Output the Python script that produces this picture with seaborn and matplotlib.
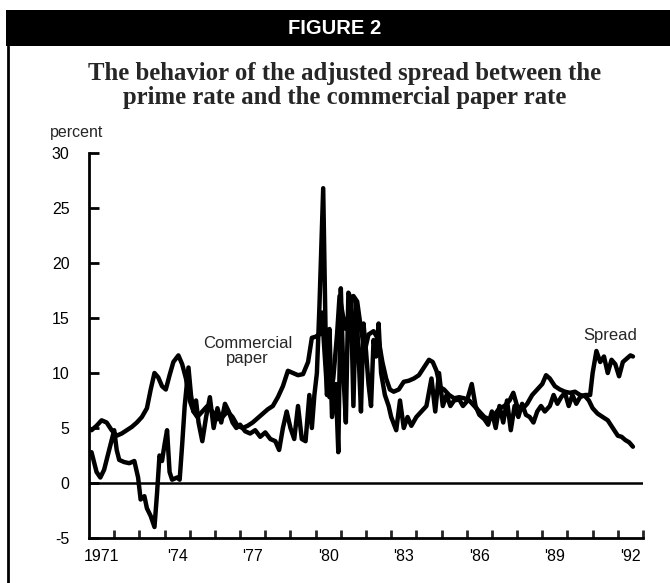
import matplotlib
matplotlib.use("Agg")
import matplotlib.pyplot as plt
import seaborn as sns
import pandas as pd
from matplotlib.patches import Rectangle
from matplotlib.lines import Line2D

# ---------------- data (decimal years, percent) ----------------
cp_year = [1971.0, 1971.1, 1971.3, 1971.5, 1971.7, 1971.9, 1972.1, 1972.3, 1972.5, 1972.7,
           1972.9, 1973.1, 1973.3, 1973.45, 1973.6, 1973.75, 1973.9, 1974.05, 1974.2, 1974.35,
           1974.55, 1974.7, 1974.85, 1975.0, 1975.15, 1975.3, 1975.5, 1975.7, 1975.9, 1976.1,
           1976.3, 1976.5, 1976.7, 1976.9, 1977.1, 1977.3, 1977.5, 1977.7, 1977.9, 1978.1,
           1978.3, 1978.5, 1978.7, 1978.9, 1979.1, 1979.3, 1979.5, 1979.7, 1979.85, 1980.0,
           1980.15, 1980.25, 1980.35, 1980.45, 1980.55, 1980.7, 1980.85, 1980.95, 1981.1, 1981.2,
           1981.35, 1981.5, 1981.65, 1981.8, 1981.95, 1982.1, 1982.3, 1982.5, 1982.65, 1982.8,
           1982.95, 1983.1, 1983.3, 1983.5, 1983.7, 1983.9, 1984.1, 1984.3, 1984.5, 1984.65,
           1984.8, 1984.95, 1985.1, 1985.3, 1985.5, 1985.7, 1985.9, 1986.1, 1986.3, 1986.5,
           1986.7, 1986.9, 1987.1, 1987.3, 1987.5, 1987.7, 1987.85, 1988.0, 1988.2, 1988.4,
           1988.6, 1988.8, 1989.0, 1989.15, 1989.3, 1989.5, 1989.7, 1989.9, 1990.1, 1990.3,
           1990.5, 1990.7, 1990.85, 1991.0, 1991.2, 1991.4, 1991.6, 1991.8, 1992.0, 1992.15,
           1992.3, 1992.45, 1992.6]
cp_rate = [5.0, 4.8, 5.2, 5.7, 5.5, 4.8, 4.3, 4.5, 4.8, 5.1,
           5.5, 6.0, 6.8, 8.5, 10.0, 9.6, 8.8, 8.5, 9.8, 11.0,
           11.6, 10.8, 9.5, 7.5, 6.5, 6.0, 6.5, 7.0, 6.5, 5.8,
           6.0, 6.5, 6.0, 5.2, 5.0, 5.2, 5.5, 5.9, 6.3, 6.7,
           7.0, 7.8, 8.8, 10.2, 10.0, 9.8, 9.9, 11.0, 13.2, 13.3,
           13.5, 15.5, 12.0, 8.5, 7.8, 9.5, 13.5, 17.0, 15.0, 14.0,
           16.0, 17.0, 16.5, 14.0, 12.0, 13.5, 13.8, 13.0, 11.0, 9.5,
           8.5, 8.3, 8.5, 9.2, 9.3, 9.5, 9.8, 10.5, 11.2, 11.0,
           10.2, 8.7, 8.5, 8.0, 7.7, 7.8, 7.7, 7.5, 7.0, 6.5,
           6.0, 5.8, 6.2, 6.8, 7.0, 7.5, 8.2, 7.0, 6.7, 7.2,
           8.0, 8.5, 9.0, 9.8, 9.5, 8.8, 8.5, 8.3, 8.2, 8.3,
           8.0, 7.9, 7.5, 6.8, 6.3, 6.0, 5.7, 5.0, 4.3, 4.2,
           3.9, 3.7, 3.3]

spread_year = [1971.1, 1971.3, 1971.45, 1971.6, 1971.8, 1972.0, 1972.1, 1972.2, 1972.4, 1972.6,
               1972.8, 1972.95, 1973.05, 1973.2, 1973.3, 1973.45, 1973.6, 1973.7, 1973.8, 1973.9,
               1974.0, 1974.1, 1974.2, 1974.3, 1974.5, 1974.6, 1974.7, 1974.8, 1974.95, 1975.05,
               1975.15, 1975.25, 1975.35, 1975.5, 1975.65, 1975.8, 1975.95, 1976.1, 1976.25, 1976.4,
               1976.55, 1976.7, 1976.85, 1977.0, 1977.2, 1977.4, 1977.6, 1977.8, 1978.0, 1978.2,
               1978.4, 1978.55, 1978.7, 1978.85, 1979.0, 1979.15, 1979.3, 1979.45, 1979.6, 1979.75,
               1979.85, 1979.95, 1980.05, 1980.15, 1980.3, 1980.4, 1980.45, 1980.55, 1980.65, 1980.8,
               1980.9, 1981.0, 1981.1, 1981.2, 1981.3, 1981.4, 1981.5, 1981.6, 1981.7, 1981.8,
               1981.9, 1982.0, 1982.1, 1982.2, 1982.3, 1982.4, 1982.5, 1982.6, 1982.75, 1982.9,
               1983.0, 1983.2, 1983.35, 1983.5, 1983.65, 1983.8, 1984.0, 1984.2, 1984.4, 1984.6,
               1984.75, 1984.9, 1985.05, 1985.2, 1985.35, 1985.5, 1985.7, 1985.85, 1986.0, 1986.2,
               1986.35, 1986.5, 1986.7, 1986.85, 1987.0, 1987.15, 1987.3, 1987.45, 1987.6, 1987.75,
               1987.9, 1988.05, 1988.2, 1988.35, 1988.5, 1988.65, 1988.8, 1988.95, 1989.1, 1989.3,
               1989.45, 1989.6, 1989.75, 1989.9, 1990.05, 1990.2, 1990.35, 1990.5, 1990.7, 1990.9,
               1991.0, 1991.15, 1991.3, 1991.45, 1991.6, 1991.75, 1991.9, 1992.05, 1992.2, 1992.35,
               1992.5, 1992.6]
spread_value = [2.8, 1.0, 0.5, 1.2, 3.0, 4.8, 3.0, 2.1, 1.9, 1.8,
                2.0, 0.5, -1.5, -1.2, -2.3, -3.0, -4.0, -1.0, 2.5, 2.0,
                3.5, 4.8, 1.0, 0.3, 0.5, 0.3, 3.5, 7.0, 10.5, 8.0,
                6.5, 7.5, 5.5, 3.8, 6.0, 7.8, 5.0, 6.8, 5.5, 7.2,
                6.5, 5.5, 5.0, 5.3, 4.7, 4.5, 4.8, 4.2, 4.6, 4.0,
                3.8, 3.0, 5.0, 6.5, 5.0, 4.0, 7.0, 4.0, 3.8, 8.0,
                5.0, 8.0, 10.0, 16.0, 26.8, 13.0, 8.0, 14.0, 6.0, 9.0,
                2.8, 17.7, 10.0, 5.5, 17.3, 16.8, 7.0, 16.5, 12.0, 6.5,
                14.5, 12.0, 9.0, 7.0, 13.0, 11.5, 14.5, 10.0, 8.0, 7.0,
                6.0, 4.8, 7.5, 5.0, 6.0, 5.2, 6.0, 6.5, 7.0, 9.5,
                6.5, 10.0, 7.0, 8.0, 7.0, 7.5, 7.6, 7.0, 7.4, 9.0,
                7.0, 6.2, 5.8, 5.3, 6.5, 5.0, 7.0, 5.5, 7.5, 4.8,
                7.0, 6.0, 7.2, 6.2, 6.0, 5.5, 6.5, 7.0, 6.5, 7.0,
                8.0, 7.2, 7.8, 8.2, 7.0, 8.0, 7.2, 7.8, 8.0, 8.0,
                10.0, 12.0, 11.0, 11.5, 10.0, 11.2, 10.8, 9.7, 11.0, 11.3,
                11.6, 11.5]

y_ticks = [-5, 0, 5, 10, 15, 20, 25, 30]
x_label_years = [1971, 1974, 1977, 1980, 1983, 1986, 1989, 1992]
x_labels = ["1971", "'74", "'77", "'80", "'83", "'86", "'89", "'92"]

# ---------------- styling ----------------
sns.set_style("ticks")
plt.rcParams["font.family"] = ["Liberation Sans", "DejaVu Sans"]

W, H = 670, 583
fig = plt.figure(figsize=(W / 100, H / 100), dpi=100)
fig.patch.set_facecolor("white")

def fx(px):
    return px / W

def fy(py):
    return 1 - py / H

ax = fig.add_axes([fx(89), fy(538), fx(643) - fx(89), fy(153) - fy(538)])
ax.set_facecolor("white")

cp_df = pd.DataFrame({"year": cp_year, "rate": cp_rate})
sp_df = pd.DataFrame({"year": spread_year, "rate": spread_value})

sns.lineplot(data=cp_df, x="year", y="rate", ax=ax, color="black", linewidth=3.2,
             sort=False, estimator=None)
sns.lineplot(data=sp_df, x="year", y="rate", ax=ax, color="black", linewidth=3.2,
             sort=False, estimator=None)

ax.axhline(0, xmin=0, xmax=1, color="black", linewidth=1.8, zorder=1)

ax.set_xlim(1971, 1993)
ax.set_ylim(-5, 30)
ax.set_xlabel("")
ax.set_ylabel("")

for s in ["top", "right"]:
    ax.spines[s].set_visible(False)
for s in ["left", "bottom"]:
    ax.spines[s].set_linewidth(2.0)
    ax.spines[s].set_color("black")

ax.set_yticks(y_ticks)
ax.set_yticklabels([str(v) for v in y_ticks])
ax.tick_params(axis="y", direction="in", length=7.5, width=2.0, pad=14,
               labelsize=11.5, colors="black")

ax.set_xticks(list(range(1972, 1994)))
ax.set_xticklabels([])
ax.set_xticks([y + 0.5 for y in x_label_years], minor=True)
ax.set_xticklabels(x_labels, minor=True)
ax.tick_params(axis="x", which="major", direction="in", length=5.5, width=2.0)
ax.tick_params(axis="x", which="minor", length=0, pad=8, labelsize=11.5, colors="black")

ax.text(1977.3, 12.0, "Commercial\npaper", ha="center", va="center", fontsize=12,
        linespacing=1.0)
ax.text(1991.7, 13.4, "Spread", ha="center", va="center", fontsize=12)

fig.text(fx(50), fy(133), "percent", ha="left", va="center", fontsize=11.5)

# header bar and frame
fig.patches.append(Rectangle((fx(6), fy(46)), 1 - fx(6), fy(10) - fy(46),
                             transform=fig.transFigure, facecolor="black",
                             edgecolor="none", zorder=0))
fig.lines.append(Line2D([fx(7.5), fx(7.5)], [fy(46), 0], transform=fig.transFigure,
                        color="black", linewidth=2.0))
fig.text(0.5, fy(29), "FIGURE 2", ha="center", va="center", color="white",
         fontsize=14.5, fontweight="bold")
fig.text(0.515, fy(85.5), "The behavior of the adjusted spread between the\n"
         "prime rate and the commercial paper rate",
         ha="center", va="center", fontsize=17.8, fontweight="bold",
         family=["Liberation Serif", "DejaVu Serif"], linespacing=1.1)

fig.savefig("out.png", dpi=100, facecolor="white")
